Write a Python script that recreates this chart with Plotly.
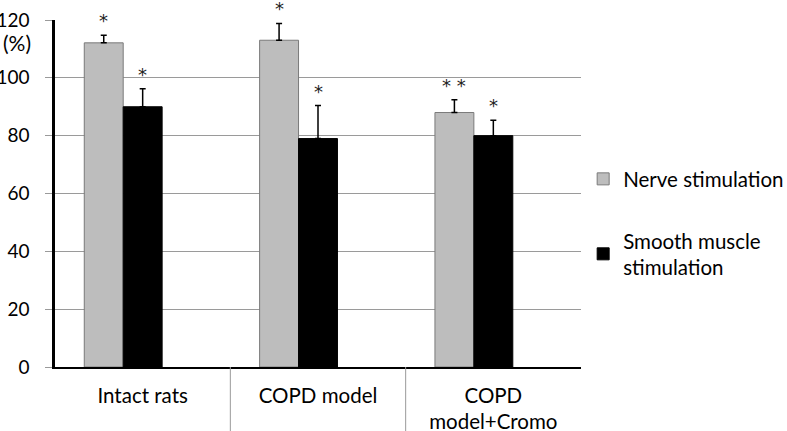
import plotly.graph_objects as go

categories = ["Intact rats", "COPD model", "COPD<br>model+Cromo"]
nerve_values = [112.1, 113.0, 88.0]
nerve_errors = [2.6, 5.8, 4.4]
nerve_marks = ["*", "*", "* *"]
smooth_values = [90.0, 79.0, 80.0]
smooth_errors = [6.2, 11.4, 5.3]
smooth_marks = ["*", "*", "*"]
y_ticks = [0, 20, 40, 60, 80, 100, 120]

FONT = "Lato"
STAR_FONT = "DejaVu Sans"
BAR_W = 0.222
NERVE_OFF = -0.333
SMOOTH_OFF = NERVE_OFF + BAR_W

fig = go.Figure()
fig.add_trace(go.Bar(
    x=categories, y=nerve_values, name="Nerve stimulation",
    width=BAR_W, offset=NERVE_OFF,
    marker=dict(color="#bdbdbd", line=dict(color="#7a7a7a", width=1)),
    error_y=dict(type="data", array=nerve_errors, arrayminus=[0]*3, symmetric=False,
                 color="black", thickness=1.5, width=3),
    legendgroup="a",
))
fig.add_trace(go.Bar(
    x=categories, y=smooth_values, name="Smooth muscle<br>stimulation",
    width=BAR_W, offset=SMOOTH_OFF,
    marker=dict(color="black", line=dict(color="black", width=1)),
    error_y=dict(type="data", array=smooth_errors, arrayminus=[0]*3, symmetric=False,
                 color="black", thickness=1.5, width=3),
    legendgroup="b",
))

annotations = []
for i in range(len(categories)):
    annotations.append(dict(x=i + NERVE_OFF + BAR_W / 2, y=nerve_values[i] + nerve_errors[i],
                            text=nerve_marks[i], showarrow=False, yanchor="bottom", yshift=2,
                            xref="x", yref="y", font=dict(family=STAR_FONT, size=18, color="#222")))
    annotations.append(dict(x=i + SMOOTH_OFF + BAR_W / 2, y=smooth_values[i] + smooth_errors[i],
                            text=smooth_marks[i], showarrow=False, yanchor="bottom", yshift=2,
                            xref="x", yref="y", font=dict(family=STAR_FONT, size=18, color="#222")))
annotations.append(dict(x=-0.042, y=0.935, xref="paper", yref="paper", text="(%)",
                        showarrow=False, xanchor="right", yanchor="middle",
                        font=dict(family=FONT, size=21, color="black")))

shapes = []
for b in [0.5, 1.5]:
    shapes.append(dict(type="line", xref="x", yref="paper", x0=b, x1=b, y0=0, y1=-0.185,
                       line=dict(color="#9a9a9a", width=1)))

fig.update_layout(
    width=787, height=431,
    margin=dict(l=55, r=206, t=20, b=64, autoexpand=False),
    paper_bgcolor="white", plot_bgcolor="white",
    barmode="overlay",
    font=dict(family=FONT, size=20, color="black"),
    showlegend=True,
    legend=dict(xref="container", yref="container", x=0.741, y=0.631,
                xanchor="left", yanchor="top",
                traceorder="grouped", tracegroupgap=32, borderwidth=0,
                font=dict(family=FONT, size=20.5, color="black"),
                bgcolor="rgba(0,0,0,0)"),
    annotations=annotations,
    shapes=shapes,
    xaxis=dict(range=[-0.5, 2.5], showline=True, linecolor="black", linewidth=2,
               ticks="", showgrid=False, zeroline=False, ticklabelstandoff=9,
               automargin=False,
               tickfont=dict(family=FONT, size=20.5, color="black")),
    yaxis=dict(range=[0, 120], tickvals=y_ticks, showline=True, linecolor="black", linewidth=2.5,
               ticks="outside", ticklen=7, tickcolor="#9a9a9a", tickwidth=1,
               showgrid=True, gridcolor="#9a9a9a", gridwidth=1, zeroline=False,
               ticklabelstandoff=12, automargin=False,
               tickfont=dict(family=FONT, size=19, color="black")),
)

fig.write_html("out.html", config={"displayModeBar": False},
               post_script="document.body.style.margin='0';document.body.style.padding='0';")
